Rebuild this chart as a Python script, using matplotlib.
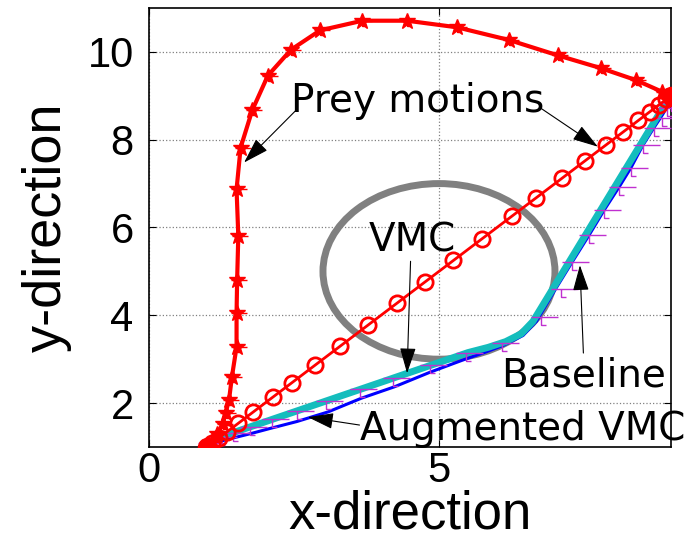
import numpy as np
import matplotlib
matplotlib.use('Agg')
from matplotlib import pyplot as plt
from matplotlib.path import Path
from matplotlib.patches import Circle

# prey motion 1: curved path with star markers
prey1_x = [1.0, 1.08, 1.17, 1.27, 1.32, 1.38, 1.43, 1.51, 1.51, 1.52, 1.54, 1.51, 1.58,
           1.78, 2.05, 2.45, 2.95, 3.68, 4.45, 5.31, 6.21, 7.05, 7.79, 8.39, 8.85, 9.0]
prey1_y = [1.0, 1.12, 1.3, 1.52, 1.77, 2.07, 2.6, 3.28, 4.05, 4.81, 5.81, 6.87, 7.82,
           8.67, 9.46, 10.05, 10.49, 10.71, 10.71, 10.56, 10.27, 9.92, 9.63, 9.36, 9.09, 9.0]

# prey motion 2: straight path with circle markers
prey2_x = [1.0, 1.08, 1.2, 1.35, 1.54, 1.80, 2.14, 2.46, 2.86, 3.29, 3.77, 4.28, 4.76,
           5.25, 5.74, 6.26, 6.67, 7.12, 7.52, 7.88, 8.17, 8.44, 8.64, 8.8, 8.92, 9.0]
prey2_y = prey2_x

# robot paths
vmc_x = [1.15, 5.5, 5.85, 6.15, 6.42, 6.62, 8.94, 8.98]
vmc_y = [1.19, 3.15, 3.27, 3.4, 3.58, 3.86, 8.9, 8.98]

aug_x = [1.0, 1.1, 1.31, 1.74, 2.11, 2.55, 3.09, 3.66, 4.23, 4.84, 5.41, 5.8, 6.12,
         6.45, 6.68, 7.02, 7.30, 7.59, 7.85, 8.11, 8.31, 8.51, 8.71, 8.85, 8.94, 9.0]
aug_y = [1.0, 1.06, 1.16, 1.3, 1.43, 1.58, 1.80, 2.11, 2.37, 2.70, 2.98, 3.16, 3.32,
         3.54, 3.86, 4.62, 5.22, 5.83, 6.40, 6.93, 7.36, 7.86, 8.28, 8.56, 8.76, 8.92]

# sample glyphs along the robot path
tick_x = [1.02, 1.22, 1.45, 1.74, 2.12, 2.55, 3.06, 3.63, 4.20, 4.84, 5.47, 6.09, 6.76,
          7.11, 7.30, 7.59, 7.85, 8.11, 8.31, 8.51, 8.71, 8.85, 8.94, 9.0]
tick_y = [1.08, 1.22, 1.33, 1.46, 1.63, 1.82, 2.05, 2.31, 2.57, 2.86, 3.14, 3.37, 3.95,
          4.6, 5.22, 5.83, 6.40, 6.93, 7.35, 7.88, 8.26, 8.49, 8.72, 8.83]

# obstacle
obstacle_center = (5.0, 5.0)
obstacle_radius = 2.0

tick_path = Path(
    [(-0.6, 0), (1, 0), (0, 0), (0, -0.5), (0, -0.5), (0.3, -0.5)],
    [Path.MOVETO, Path.LINETO, Path.MOVETO, Path.LINETO, Path.MOVETO, Path.LINETO],
)

fig = plt.figure(figsize=(6.85, 5.39), dpi=100)
ax = fig.add_axes([0.2175, 0.1707, 0.762, 0.8145])

ax.add_patch(Circle(obstacle_center, obstacle_radius, fill=False,
                    edgecolor='#808080', linewidth=5, zorder=2))

ax.plot(aug_x, aug_y, color='blue', linewidth=2.2, zorder=3)
ax.plot(vmc_x, vmc_y, color='#14BDBD', linewidth=5, zorder=4,
        solid_joinstyle='round')
ax.plot(tick_x, tick_y, linestyle='none', marker=tick_path, markersize=24,
        markeredgecolor='#C030D0', markeredgewidth=1.0, zorder=5)

ax.plot(prey2_x, prey2_y, color='red', linewidth=2, marker='o', markersize=11,
        markerfacecolor='none', markeredgecolor='red', markeredgewidth=2, zorder=6)
ax.plot(prey1_x, prey1_y, linestyle='none', marker=tick_path, markersize=15,
        markeredgecolor='red', markeredgewidth=1.0, zorder=6)
ax.plot(prey1_x, prey1_y, color='red', linewidth=3, marker='*', markersize=12,
        markeredgecolor='red', zorder=7)
ax.plot([prey1_x[0], prey1_x[-1]], [prey1_y[0], prey1_y[-1]], linestyle='none',
        marker='o', markersize=13, color='red', zorder=8)

txt = dict(fontsize=28, family='DejaVu Sans', color='black', zorder=9)
arw = dict(arrowstyle='-|>,head_length=0.8,head_width=0.25', color='black',
           lw=0.8, mutation_scale=20, shrinkA=0, shrinkB=0)

ax.text(4.63, 8.62, 'Prey motions', ha='center', va='baseline', **txt)
ax.annotate('', xy=(1.64, 7.48), xytext=(2.55, 8.69), arrowprops=arw, zorder=9)
ax.annotate('', xy=(7.74, 7.84), xytext=(6.73, 8.74), arrowprops=arw, zorder=9)

ax.text(4.54, 5.46, 'VMC', ha='center', va='baseline', **txt)
ax.annotate('', xy=(4.45, 2.68), xytext=(4.51, 5.23), arrowprops=arw, zorder=9)

ax.text(7.5, 2.38, 'Baseline', ha='center', va='baseline', **txt)
ax.annotate('', xy=(7.43, 5.14), xytext=(7.49, 3.14), arrowprops=arw, zorder=9)

ax.text(3.63, 1.16, 'Augmented VMC', ha='left', va='baseline', clip_on=False, **txt)
ax.annotate('', xy=(2.74, 1.68), xytext=(3.63, 1.5), arrowprops=arw, zorder=9)

ax.set_xlim(0, 9)
ax.set_ylim(1, 11)
ax.set_xticks([0, 5])
ax.set_yticks([2, 4, 6, 8, 10])
ax.grid(True, linestyle=':', color='#808080', linewidth=0.9)
ax.set_axisbelow(True)
ax.tick_params(direction='in', length=5, top=True, right=True, labelsize=30,
               labelfontfamily='Liberation Sans')
ax.tick_params(axis='x', pad=3)
ax.tick_params(axis='y', pad=11)
for s in ax.spines.values():
    s.set_linewidth(1.2)

ax.set_xlabel('x-direction', fontsize=38, family='Liberation Sans', labelpad=-1)
ax.set_ylabel('y-direction', fontsize=39, family='Liberation Sans', labelpad=11)

fig.savefig('out.png', dpi=100)
